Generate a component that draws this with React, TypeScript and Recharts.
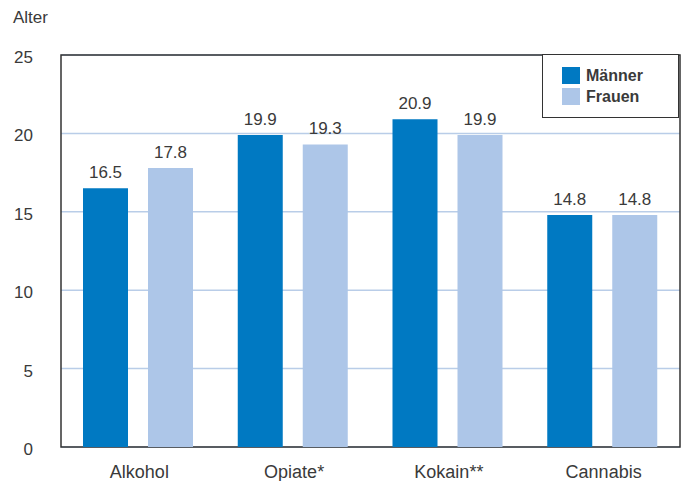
import React from 'react';
import { BarChart, Bar, XAxis, YAxis, CartesianGrid, LabelList, ReferenceArea } from 'recharts';

const categories = ['Alkohol', 'Opiate*', 'Kokain**', 'Cannabis'];
const maenner = [16.5, 19.9, 20.9, 14.8];
const frauen = [17.8, 19.3, 19.9, 14.8];
const yTicks = [0, 5, 10, 15, 20, 25];
const series = [
  { key: 'maenner', name: 'Männer', color: '#0079C2' },
  { key: 'frauen', name: 'Frauen', color: '#ADC6E8' },
];

const data = categories.map((c, i) => ({ cat: c, maenner: maenner[i], frauen: frauen[i] }));

const FONT = '"Liberation Sans", Arial, sans-serif';
const TEXT = '#3a3a3a';

const YTick = (props: any) => {
  const { x, y, payload } = props;
  return (
    <text x={x - 28} y={y + 2} dy="0.35em" textAnchor="end" fontSize={17} fill={TEXT} fontFamily={FONT}>
      {payload.value}
    </text>
  );
};

const XTick = (props: any) => {
  const { x, y, payload } = props;
  return (
    <text x={x + 1} y={y + 31} textAnchor="middle" fontSize={18} fill={TEXT} fontFamily={FONT}>
      {payload.value}
    </text>
  );
};

export default function App() {
  return (
    <div style={{ position: 'absolute', left: 0, top: 0, width: 686, height: 481, background: '#fff', fontFamily: FONT }}>
      <div style={{ position: 'absolute', left: 13, top: 8, fontSize: 17, color: TEXT }}>Alter</div>
      <BarChart
        width={686}
        height={481}
        data={data}
        margin={{ top: 55, right: 6, bottom: 0, left: 0 }}
        barSize={45}
        barGap={20}
      >
        <CartesianGrid vertical={false} stroke="#B9CDE8" strokeWidth={1.5} />
        <XAxis
          dataKey="cat"
          height={34}
          tickLine={false}
          axisLine={false}
          tickSize={0}
          tickMargin={0}
          tick={<XTick />}
          interval={0}
        />
        <YAxis
          width={61}
          domain={[0, 25]}
          ticks={yTicks}
          tickLine={false}
          axisLine={false}
          tickSize={0}
          tickMargin={0}
          tick={<YTick />}
          interval={0}
        />
        {series.map((s) => (
          <Bar key={s.key} dataKey={s.key} name={s.name} fill={s.color} isAnimationActive={false}>
            <LabelList
              dataKey={s.key}
              position="top"
              offset={10}
              fontSize={17}
              fill={TEXT}
              fontFamily={FONT}
              formatter={(v: any) => Number(v).toFixed(1)}
            />
          </Bar>
        ))}
        <ReferenceArea y1={0} y2={25} fill="none" fillOpacity={0} stroke="#333" strokeWidth={1.5} ifOverflow="visible" />
      </BarChart>
      <div
        style={{
          position: 'absolute',
          left: 542,
          top: 54,
          width: 137,
          height: 64,
          boxSizing: 'border-box',
          border: '1.5px solid #333',
          background: '#fff',
          paddingLeft: 19,
          paddingTop: 10,
        }}
      >
        {series.map((s) => (
          <div key={s.key} style={{ display: 'flex', alignItems: 'center', height: 21 }}>
            <span style={{ display: 'inline-block', width: 18, height: 17, background: s.color, marginRight: 6 }} />
            <span style={{ fontWeight: 'bold', fontSize: 16, color: TEXT }}>{s.name}</span>
          </div>
        ))}
      </div>
    </div>
  );
}
